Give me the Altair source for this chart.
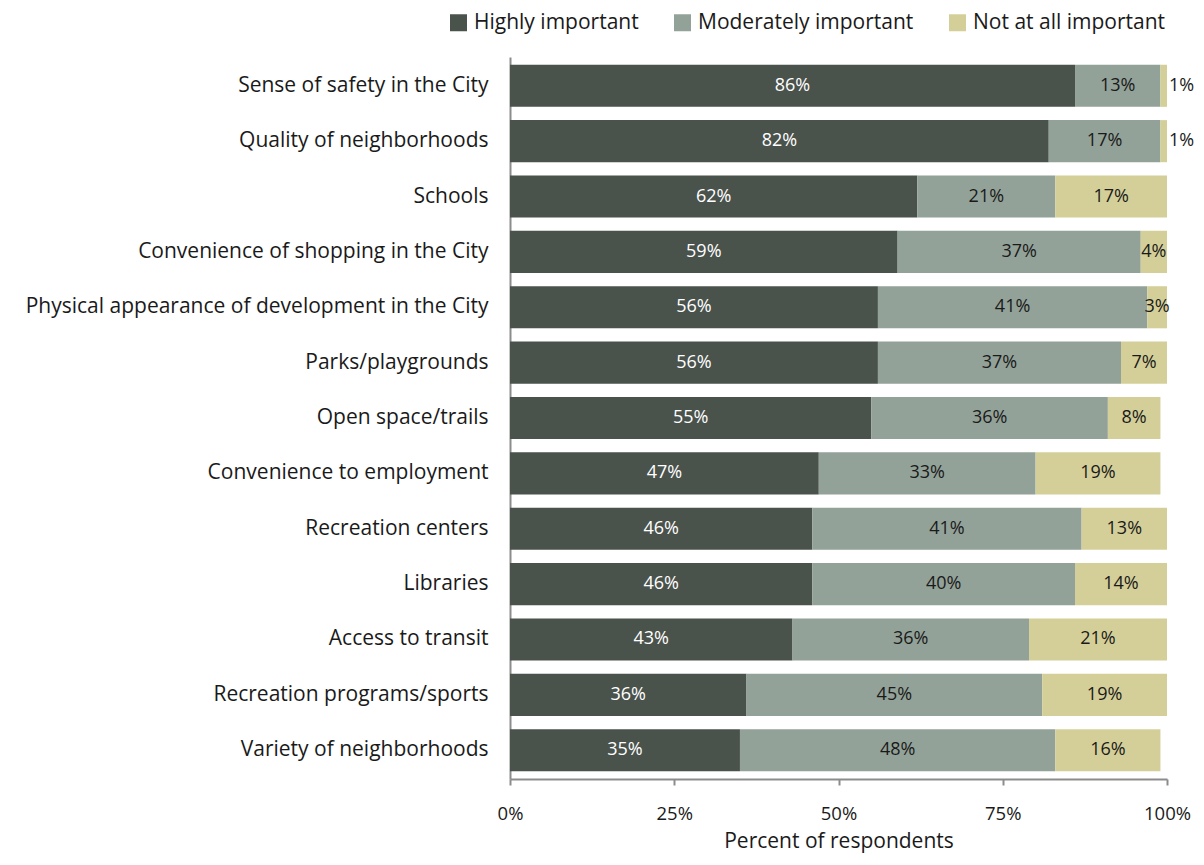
import altair as alt
import pandas as pd

categories = [
    "Sense of safety in the City",
    "Quality of neighborhoods",
    "Schools",
    "Convenience of shopping in the City",
    "Physical appearance of development in the City",
    "Parks/playgrounds",
    "Open space/trails",
    "Convenience to employment",
    "Recreation centers",
    "Libraries",
    "Access to transit",
    "Recreation programs/sports",
    "Variety of neighborhoods",
]
highly = [86, 82, 62, 59, 56, 56, 55, 47, 46, 46, 43, 36, 35]
moderately = [13, 17, 21, 37, 41, 37, 36, 33, 41, 40, 36, 45, 48]
not_at_all = [1, 1, 17, 4, 3, 7, 8, 19, 13, 14, 21, 19, 16]

series = ["Highly important", "Moderately important", "Not at all important"]
colors = ["#4a524c", "#93a298", "#d4cf98"]
label_colors = ["#ffffff", "#1a1a1a", "#1a1a1a"]

rows = []
for i, cat in enumerate(categories):
    start = 0
    for k, vals in enumerate([highly, moderately, not_at_all]):
        v = vals[i]
        mid = start + v / 2
        if v < 2:
            mid = start + v + 2.2
        rows.append({
            "category": cat, "series": series[k], "order": k,
            "start": start, "end": start + v, "mid": mid,
            "label": f"{v}%", "lcolor": label_colors[k],
        })
        start += v
df = pd.DataFrame(rows)

FONT = "Open Sans"

y_enc = alt.Y("category:N", sort=categories, title=None,
              scale=alt.Scale(paddingInner=0.24, paddingOuter=0.14),
              axis=alt.Axis(ticks=False, labelFontSize=21, labelColor="#1a1a1a",
                            labelPadding=22, domainColor="#8c8c8c", domainWidth=2,
                            labelFont=FONT, labelLimit=600))

bars = alt.Chart(df).mark_bar().encode(
    y=y_enc,
    x=alt.X("start:Q", scale=alt.Scale(domain=[0, 100], nice=False),
            title="Percent of respondents",
            axis=alt.Axis(values=[0, 25, 50, 75, 100], labelExpr="datum.value + '%'",
                          grid=False, tickSize=6, tickColor="#8c8c8c", tickWidth=2,
                          domainColor="#8c8c8c", domainWidth=2, labelFlush=False,
                          labelFontSize=18.5, labelColor="#1a1a1a", labelPadding=19,
                          labelFont=FONT, titleFont=FONT, titleFontSize=21,
                          titleFontWeight="normal", titleColor="#1a1a1a",
                          titlePadding=8)),
    x2="end:Q",
    color=alt.Color("series:N", sort=series,
                    scale=alt.Scale(domain=series, range=colors),
                    legend=alt.Legend(title=None, orient="none", direction="horizontal",
                                      legendX=-62, legendY=-45,
                                      symbolType="square", symbolSize=289,
                                      symbolStrokeWidth=0, labelFontSize=21,
                                      labelFont=FONT, labelColor="#1a1a1a",
                                      labelLimit=0, labelOffset=5, columnPadding=33)),
)

texts = alt.Chart(df).mark_text(fontSize=18, font=FONT, baseline="middle", align="center").encode(
    y=alt.Y("category:N", sort=categories),
    x=alt.X("mid:Q"),
    text="label:N",
    color=alt.Color("lcolor:N", scale=None),
)

chart = alt.layer(bars, texts).properties(
    width=657, height=722,
    autosize=alt.AutoSizeParams(type="none"),
    padding={"left": 502, "top": 49, "right": 28, "bottom": 78},
).configure_view(stroke=None).configure_axis(labelFont=FONT)

chart.save("out.html", embed_options={"renderer": "svg", "actions": False})
